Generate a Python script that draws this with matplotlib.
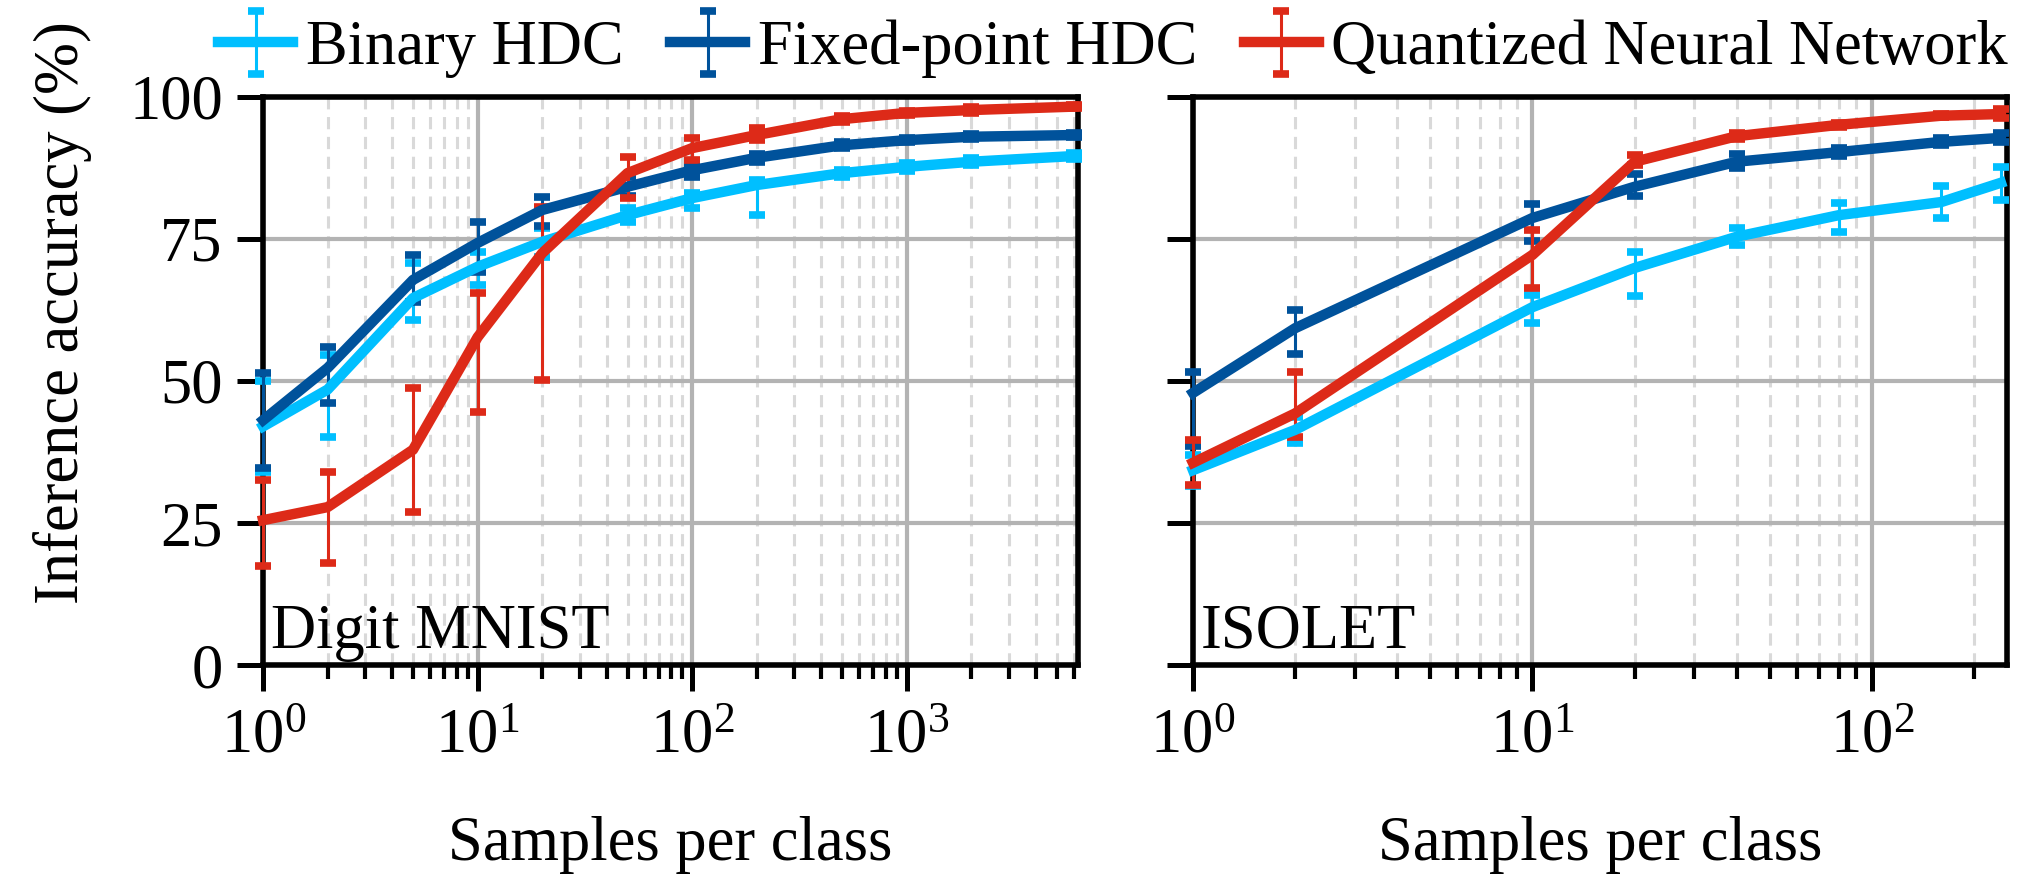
import numpy as np
import matplotlib
matplotlib.use("Agg")
import matplotlib.pyplot as plt
from matplotlib.ticker import LogLocator, NullFormatter

plt.rcParams['font.family'] = ['Liberation Serif', 'DejaVu Serif']
plt.rcParams['mathtext.fontset'] = 'custom'
plt.rcParams['mathtext.rm'] = 'Liberation Serif'
plt.rcParams['mathtext.it'] = 'Liberation Serif:italic'
plt.rcParams['font.size'] = 45

# --- Datos ---
series_names = ["Binary HDC", "Fixed-point HDC", "Quantized Neural Network"]
colors = ["#00bfff", "#00529b", "#dd2a18"]

mnist_x = [1, 2, 5, 10, 20, 50, 100, 200, 500, 1000, 2000, 6000]
mnist_binary = [42.0, 48.5, 64.6, 70.1, 74.5, 79.2, 82.2, 84.5, 86.6, 87.7, 88.6, 89.6]
mnist_binary_lo = [34.0, 40.1, 60.7, 66.9, 71.8, 78.0, 80.5, 79.2, 86.0, 87.0, 88.0, 89.0]
mnist_binary_hi = [50.0, 54.6, 70.8, 72.7, 77.0, 80.5, 83.1, 85.4, 87.2, 88.4, 89.2, 90.2]
mnist_fixed = [43.1, 52.3, 67.8, 74.3, 80.1, 84.2, 87.1, 89.3, 91.5, 92.4, 93.0, 93.3]
mnist_fixed_lo = [34.7, 46.1, 63.9, 69.2, 77.3, 82.5, 86.0, 88.5, 91.0, 92.0, 92.6, 93.0]
mnist_fixed_hi = [51.4, 56.0, 72.2, 78.0, 82.4, 86.0, 88.0, 90.0, 92.0, 92.8, 93.4, 93.6]
mnist_qnn = [25.5, 27.8, 37.9, 57.7, 72.5, 86.6, 91.0, 93.3, 96.1, 97.2, 97.7, 98.3]
mnist_qnn_lo = [17.4, 18.0, 26.9, 44.6, 50.2, 82.2, 88.9, 92.5, 95.6, 96.8, 97.2, 98.0]
mnist_qnn_hi = [32.6, 34.0, 48.8, 65.5, 80.6, 89.4, 92.8, 94.5, 96.6, 97.6, 98.2, 98.6]

isolet_x = [1, 2, 10, 20, 40, 80, 160, 240]
isolet_binary = [34.3, 41.4, 63.0, 69.9, 75.4, 79.2, 81.5, 84.9]
isolet_binary_lo = [31.5, 39.1, 60.2, 65.0, 74.0, 76.2, 78.7, 81.9]
isolet_binary_hi = [37.0, 43.7, 65.1, 72.7, 77.0, 81.3, 84.3, 87.7]
isolet_fixed = [47.9, 59.3, 78.7, 84.2, 88.6, 90.3, 92.1, 92.8]
isolet_fixed_lo = [38.5, 54.8, 74.6, 82.5, 87.5, 89.6, 91.5, 92.0]
isolet_fixed_hi = [51.6, 62.5, 81.2, 86.5, 90.0, 91.0, 92.7, 93.6]
isolet_qnn = [35.6, 44.3, 72.2, 88.6, 93.1, 95.1, 96.7, 97.0]
isolet_qnn_lo = [31.7, 40.1, 66.4, 88.0, 92.6, 94.8, 96.4, 96.3]
isolet_qnn_hi = [39.6, 51.6, 76.6, 89.8, 93.6, 95.5, 97.0, 97.8]

y_ticks = [0, 25, 50, 75, 100]

panels = [
    ("Digit MNIST", mnist_x, 6300,
     [(mnist_binary, mnist_binary_lo, mnist_binary_hi),
      (mnist_fixed, mnist_fixed_lo, mnist_fixed_hi),
      (mnist_qnn, mnist_qnn_lo, mnist_qnn_hi)]),
    ("ISOLET", isolet_x, 250,
     [(isolet_binary, isolet_binary_lo, isolet_binary_hi),
      (isolet_fixed, isolet_fixed_lo, isolet_fixed_hi),
      (isolet_qnn, isolet_qnn_lo, isolet_qnn_hi)]),
]

# --- Graficar ---
fig = plt.figure(figsize=(20.33, 8.93), dpi=100)
ax1 = fig.add_axes([0.1294, 0.2553, 0.4009, 0.6361])
ax2 = fig.add_axes([0.5868, 0.2553, 0.4004, 0.6361])

handles = []
for ax, (title, xs, xmax, series) in zip([ax1, ax2], panels):
    for (mean, lo, hi), color, name in zip(series, colors, series_names):
        mean = np.array(mean)
        yerr = [mean - np.array(lo), np.array(hi) - mean]
        h = ax.errorbar(xs, mean, yerr=yerr, color=color, lw=7.5, elinewidth=2.2,
                        capsize=6, capthick=5.5, label=name, zorder=3,
                        clip_on=False)
        if ax is ax1:
            handles.append(h)
    ax.set_xscale('log')
    ax.set_xlim(1, xmax)
    ax.set_ylim(0, 100)
    ax.set_yticks(y_ticks)
    ax.xaxis.set_minor_locator(LogLocator(base=10, subs=np.arange(2, 10), numticks=20))
    ax.xaxis.set_minor_formatter(NullFormatter())
    ax.grid(True, which='major', color='#b3b3b3', lw=3, zorder=0)
    ax.grid(True, which='minor', axis='x', color='#d9d9d9', lw=2.2,
            linestyle=(0, (4, 2.5)), zorder=0)
    ax.set_axisbelow(True)
    for sp in ax.spines.values():
        sp.set_linewidth(4)
        sp.set_color('black')
    ax.tick_params(which='major', direction='out', length=19, width=3.6, pad=12)
    ax.tick_params(which='minor', direction='out', length=10, width=3.0)
    ax.tick_params(axis='y', pad=10)
    ax.set_xlabel("Samples per class", labelpad=36)
    ax.text(0.01, 0.03, title, transform=ax.transAxes, ha='left', va='baseline')

ax1.set_ylabel("Inference accuracy (%)")
ax1.yaxis.set_label_coords(-0.21, 0.62)
ax2.set_yticklabels([])

fig.legend(handles=handles, loc='center', bbox_to_anchor=(0.5475, 0.945), ncol=3,
           frameon=False, fontsize=45, handlelength=1.2, handletextpad=0.2,
           columnspacing=0.75, borderaxespad=0)

fig.savefig("out.png", dpi=100)
